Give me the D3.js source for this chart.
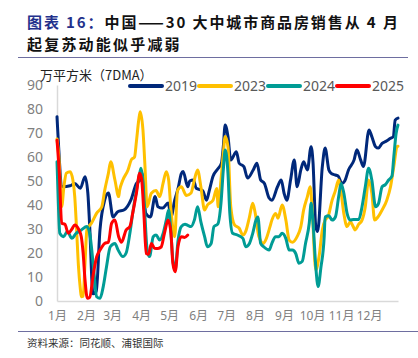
<!DOCTYPE html>
<html><head><meta charset="utf-8">
<script src="https://cdn.jsdelivr.net/npm/d3@7/dist/d3.min.js"></script>
<style>
html,body{margin:0;padding:0;background:#fff;}
svg{display:block;font-family:"Noto Sans","Noto Sans CJK SC",sans-serif;}
</style></head>
<body>
<script>
// ---- data ----
const titleLine1 = "中国——30 大中城市商品房销售从 4 月";
const titlePrefix = "图表 16：";
const titleLine2 = "起复苏动能似乎减弱";
const yTitle = "万平方米（7DMA）";
const sourceText = "资料来源：同花顺、浦银国际";
const monthStarts = [0,31,59,90,120,151,181,212,243,273,304,334];
const monthLabels = ["1月","2月","3月","4月","5月","6月","7月","8月","9月","10月","11月","12月"];
const yTicks = [0,10,20,30,40,50,60,70,80,90];
const seriesNames = ["2019","2023","2024","2025"];
const seriesColors = ["#00287A","#FFC000","#009C95","#FF0000"];

// day of year / value pairs (7DMA)
const days2019 = [0,6,14,19,25,30,33,35,38.5,42,46,51,55,60,65,72,79,85,89,91,95,100,105,108,113,119,122,126,130,133,135,140,142,146,149,156,160,163,167,172,176,178,180,183,186,192,195,200,204,210,214,218,222,227,230,236,240,243,246,250,254,257,261,264,268,272,274,277,279,284,287,291,294,298,301,305,308,312,318,321,325,328,334,337,341,344,348,352,357,360,362,365];
const vals2019 = [76.8,47.6,48,49,47,51.8,45,31,3,4,29.6,42,45,35,37.2,38,42,49,50.4,53.3,36.6,35,43.5,39.3,38.7,40.8,35,42,47.6,53,54,47.6,50,50.4,47,46,42,46,52,55,57.4,64.3,73.3,68.5,58.8,62.2,57.4,56,51.2,54.6,57.4,50.4,49,42.9,42,47.6,50.4,45,42,50.4,58.8,47.6,54.6,58,54.6,64.3,58,31,29,56,63.7,54.6,53,52.5,52,49,50,54.6,58.8,63,58.8,56,71.3,68.5,64.3,63.7,65.7,66.5,67.8,68.5,75.4,76.2];

const days2023 = [0,2,5,7.5,10,14,17,19,21,23,25,26,28,30,32,37,42.5,48,51,55,57.5,62,66,67,70.5,76,79.5,83,85,87.5,89,92,94,96.5,101,106,110,113.5,117,119.5,122,126,129,133,138.5,143.5,147,150.5,154,158,161,167,171,172.5,175.5,178,180,183,186,190,195,199,202,206,209.5,212,216,221,224,228,230,234,236.5,241,245,248.5,252,257,261,264,268,271,273,277,280.5,284,287,290,294.5,298,301.5,303.5,307,310.5,314,317,319,323,326.5,330,333.5,337,340,343.5,348,353,357,360.5,364,365];
const vals2023 = [67.5,60,39.3,48,53.3,53.9,50.4,43.5,29.6,14.3,5,1.8,2,15.8,29.6,32.5,36.6,39.3,46,53.2,58,50.4,43.5,46,50.4,54.6,58.8,60,66.4,75.4,78.9,71.3,57.4,39.3,44.9,46,43.5,49,53.9,50.4,37.9,26.8,46,47.6,44,45,50.4,54.6,47.6,37.9,40,42,46.9,39.3,50.4,61.5,68.5,64.3,39.3,31.7,30.3,27.5,29,35,40.7,37,27,24,26,31,33.7,36.5,34.5,40,33.7,25.4,24.5,26.8,31,37.9,43.5,47.6,39.3,12.9,18.5,29.6,33.7,35,42,46,50.4,47,36.5,31,33,31,29.6,32,33.7,39.3,50.4,44.9,33.7,35,37.9,42,47.6,56,64.3,64.5];

const days2024 = [0,1.5,3,7,11,16,20,26,32,35,39,42.5,46,49.5,53,57,62,65.5,70.5,74,78,81,85,88.5,90,92,94,96.5,99,103,106,110,113.5,117,119.5,122,124,126.5,129.5,133,137,140,143.5,147,150.5,154,158,161,165,168,172,175.5,178,180,183,185,188,193,199,202,206,209.5,213,215,218,221.5,227,230,234,237.5,241,245,248.5,252,255.5,259,262.5,266,270,272,274,277,279.5,282.5,286,287,291,294.5,298,301.5,304,307,310.5,314,317.5,323,326.5,330,333.5,337,341,344,348,351.5,355,358.5,360.5,363,365];
const vals2024 = [58,40,28.2,26.8,29,26.1,28,29.6,31,28.2,14.3,1.8,1.1,6,14.3,22.6,24,21.2,18.5,20,28.2,36.5,46,53.2,55.3,50,36.5,21.2,18.5,26.8,27.5,25.4,28,33.7,37.9,28.2,17.1,12.9,25,31,32,31.5,31,33.7,39.3,33,26.8,22.6,24,31,32,40.7,54.6,62.9,53.2,36.5,28.2,27.5,26.1,22.6,24,28.2,33.7,35,24,22.5,21.2,24,26.8,26.8,28.2,26,21.2,21.2,19.8,15.7,16.5,24,32.4,40.7,33,14.3,6,14,26.8,35,35.5,33.7,35,43.5,49,45,36.5,33.7,34,34,39.3,47.6,55.3,50.4,39.3,40.5,47.6,48.5,50.4,52,60,69.9,73.3];

const days2025 = [0,2.5,5,8.5,12,16,19,23,26,28,30,32.5,35,39,42.5,46,51,55,58.5,62,66,69,74,78,81,85,88.5,90.5,93,95.5,98,101,104.5,108,111.5,115,119,122,124,126.5,129.5,133,136.5,140];
const vals2025 = [67,53.2,32.4,32,28.2,30,31.7,30,26.8,19.8,8.75,1.1,1.5,11.5,18.5,21.2,24,24.5,32.4,33.7,26.8,24.5,29.6,31,36.5,44.9,53.2,51,36.5,19.8,19.5,24,22,21.9,22.5,28.2,33.7,28.2,15.7,12.2,22.6,26.8,26.5,27.5];

const allDays = [days2019, days2023, days2024, days2025];
const allVals = [vals2019, vals2023, vals2024, vals2025];

// ---- chart ----
const W = 418, H = 358;
const svg = d3.select("body").append("svg").attr("width", W).attr("height", H);

// title
const t1 = svg.append("text").attr("x", 27).attr("y", 28)
  .attr("font-family", "'Noto Sans CJK SC',sans-serif").attr("font-weight", "bold")
  .attr("font-size", 15).attr("letter-spacing", 1.9);
t1.append("tspan").attr("fill", "#23318C").text(titlePrefix);
t1.append("tspan").attr("fill", "#111").text(titleLine1);
svg.append("text").attr("x", 27).attr("y", 50)
  .attr("font-family", "'Noto Sans CJK SC',sans-serif").attr("font-weight", "bold")
  .attr("font-size", 15).attr("letter-spacing", 2.2).attr("fill", "#111").text(titleLine2);
svg.append("line").attr("x1", 18).attr("x2", 408).attr("y1", 57.5).attr("y2", 57.5)
  .attr("stroke", "#6E6EA0").attr("stroke-width", 1.2);

const x = d3.scaleLinear().domain([0, 365]).range([57, 398]);
const y = d3.scaleLinear().domain([0, 90]).range([301, 85]);

// y axis
const ya = svg.append("g").attr("transform", "translate(57,0)")
  .call(d3.axisLeft(y).tickValues(yTicks).tickSize(0).tickPadding(14));
ya.select(".domain").attr("stroke", "#D9D9D9").attr("stroke-width", 1.5);
ya.selectAll("text").attr("fill", "#7F7F7F").attr("font-size", 14)
  .attr("font-family", "'Noto Sans',sans-serif");

// x axis
const xa = svg.append("g").attr("transform", "translate(0,301)")
  .call(d3.axisBottom(x).tickValues(monthStarts).tickSize(0).tickPadding(10)
    .tickFormat((d, i) => monthLabels[i]));
xa.select(".domain").attr("stroke", "#D9D9D9").attr("stroke-width", 1.5);
xa.selectAll("text").attr("fill", "#7F7F7F").attr("font-size", 12)
  .attr("font-family", "'Noto Sans','Noto Sans CJK SC',sans-serif");

// y title
svg.append("text").attr("x", 40).attr("y", 80).attr("font-size", 13)
  .attr("fill", "#222").attr("font-family", "'Noto Sans CJK SC',sans-serif").text(yTitle);

// lines
const line = d3.line().x(d => x(d[0])).y(d => y(d[1])).curve(d3.curveMonotoneX);
seriesNames.forEach((name, i) => {
  const pts = allDays[i].map((d, j) => [d, allVals[i][j]]);
  svg.append("path").datum(pts).attr("d", line).attr("fill", "none")
    .attr("stroke", seriesColors[i]).attr("stroke-width", 3)
    .attr("stroke-linejoin", "round").attr("stroke-linecap", "round");
});

// legend
const legX = [130, 199, 268, 337];
seriesNames.forEach((name, i) => {
  const g = svg.append("g").attr("transform", `translate(${legX[i]},86)`);
  g.append("line").attr("x1", 0).attr("x2", 32).attr("y1", 0).attr("y2", 0)
    .attr("stroke", seriesColors[i]).attr("stroke-width", 4).attr("stroke-linecap", "round");
  g.append("text").attr("x", 35).attr("y", 5).attr("font-size", 14).attr("fill", "#595959")
    .attr("font-family", "'Noto Sans',sans-serif").text(name);
});

// bottom rule & source
svg.append("line").attr("x1", 18).attr("x2", 418).attr("y1", 331.5).attr("y2", 331.5)
  .attr("stroke", "#6E6EA0").attr("stroke-width", 1.2);
svg.append("text").attr("x", 27).attr("y", 347).attr("font-size", 10.5).attr("fill", "#333")
  .attr("font-family", "'Noto Sans CJK SC',sans-serif").text(sourceText);
</script>
</body></html>
